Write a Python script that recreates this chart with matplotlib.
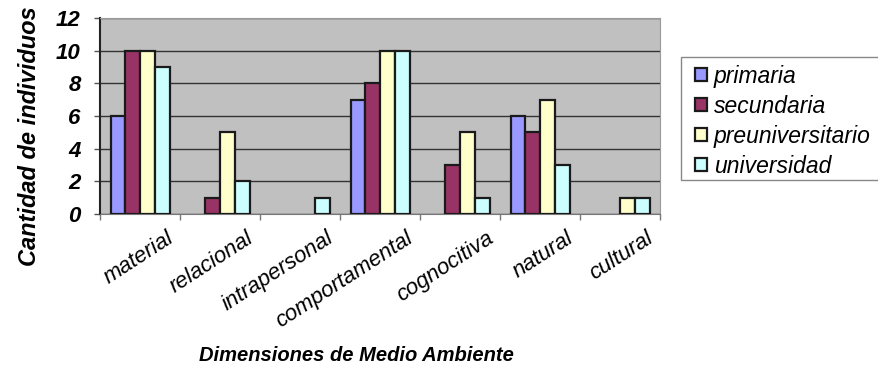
import numpy as np
import matplotlib.pyplot as plt
from matplotlib import transforms
from matplotlib.patches import Rectangle

categories = ['material', 'relacional', 'intrapersonal', 'comportamental',
              'cognocitiva', 'natural', 'cultural']
primaria = [6, 0, 0, 7, 0, 6, 0]
secundaria = [10, 1, 0, 8, 3, 5, 0]
preuniversitario = [10, 5, 0, 10, 5, 7, 1]
universidad = [9, 2, 1, 10, 1, 3, 1]

series = [('primaria', primaria, '#9999FF'),
          ('secundaria', secundaria, '#993366'),
          ('preuniversitario', preuniversitario, '#FFFFCC'),
          ('universidad', universidad, '#CCFFFF')]

plt.rcParams['font.family'] = ['Liberation Sans', 'DejaVu Sans']

fig = plt.figure(figsize=(8.79, 3.78), dpi=100)
ax = fig.add_axes([0.114, 0.434, 0.637, 0.518])
ax.set_facecolor('#C0C0C0')

x = np.arange(len(categories))
width = 0.185
for i, (name, vals, color) in enumerate(series):
    vals = np.asarray(vals)
    keep = vals > 0  # empty categories get no bar outline
    ax.bar(x[keep] + (i - 1.5) * width, vals[keep], width, color=color,
           edgecolor='#1a1a1a', linewidth=1.6, label=name, zorder=3)

ax.set_xlim(-0.5, len(categories) - 0.5)
ax.set_ylim(0, 12)
ax.set_yticks(range(0, 13, 2))
ax.yaxis.grid(True, color='#333333', linewidth=1.0, zorder=1)
ax.set_axisbelow(True)

ax.set_yticklabels([str(v) for v in range(0, 13, 2)], fontsize=16,
                   fontweight='bold', fontstyle='italic')
ax.tick_params(axis='y', length=4, width=1, color='#555555', pad=10)

# category ticks sit between groups, labels centred on groups
ax.set_xticks(np.arange(-0.5, len(categories), 1.0))
ax.set_xticklabels([])
ax.tick_params(axis='x', length=4, width=1, color='#777777')
lbl_tr = transforms.blended_transform_factory(ax.transData, ax.transAxes)
for xi, name in zip(x, categories):
    ax.text(xi + 0.32, -0.07, name, rotation=33, ha='right', va='top',
            fontsize=16, fontstyle='italic', rotation_mode='anchor',
            transform=lbl_tr)

for side in ('top', 'right'):
    ax.spines[side].set_color('#999999')
ax.spines['left'].set_color('#222222')
ax.spines['bottom'].set_color('#777777')
ax.spines['left'].set_linewidth(1.5)

fig.text(0.034, 0.64, 'Cantidad de individuos', rotation=90, ha='center',
         va='center', fontsize=17, fontweight='bold', fontstyle='italic')
fig.text(0.405, 0.06, 'Dimensiones de Medio Ambiente', ha='center',
         va='center', fontsize=14.5, fontweight='bold', fontstyle='italic')

# legend box runs off the right edge, so draw the frame separately
fig.patches.append(Rectangle((0.775, 0.524), 0.3, 0.325,
                             transform=fig.transFigure, facecolor='white',
                             edgecolor='#888888', linewidth=1.0))
leg = fig.legend(loc='upper left', bbox_to_anchor=(0.786, 0.84),
                 borderaxespad=0, prop={'style': 'italic', 'size': 16.5},
                 frameon=False, handlelength=0.5, handleheight=0.5,
                 handletextpad=0.3, labelspacing=0.3, borderpad=0.2)

fig.savefig('out.png', dpi=100)
